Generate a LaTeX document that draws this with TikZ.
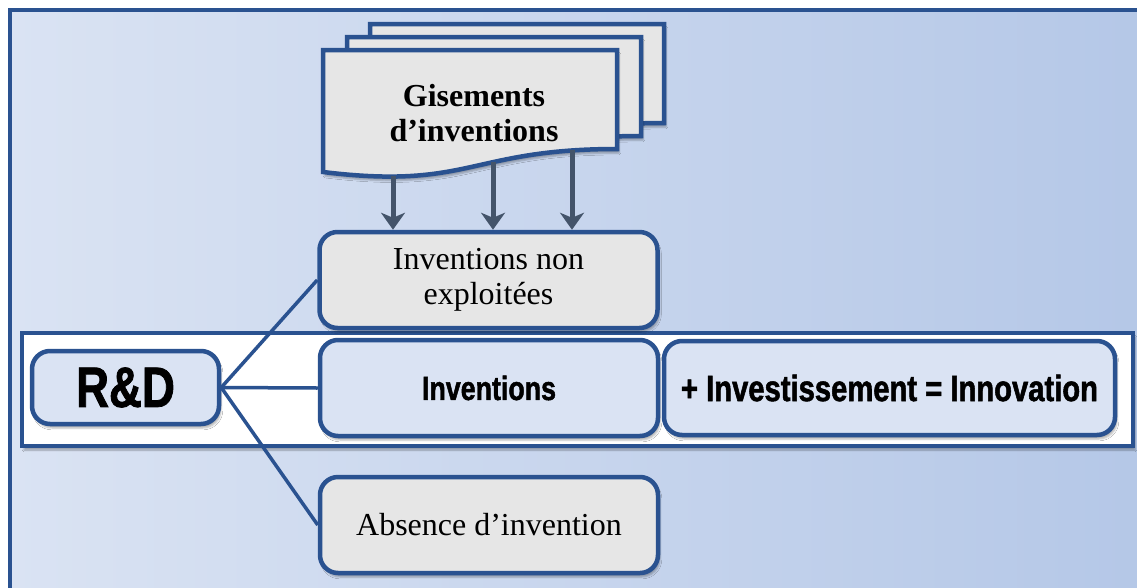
\documentclass[tikz,border=0pt]{standalone}
\usepackage{fontspec}
\setmainfont{Liberation Serif}
\newfontfamily\condfont[FakeStretch=0.8,FakeBold=1.4]{Liberation Sans}
\usetikzlibrary{arrows.meta,shadows.blur}
\definecolor{frameblue}{HTML}{2A5290}
\definecolor{bgleft}{HTML}{DAE3F3}
\definecolor{bgright}{HTML}{B4C7E7}
\definecolor{boxgray}{HTML}{E6E6E6}
\definecolor{arrowgray}{HTML}{44546A}
\tikzset{
  soft/.style={blur shadow={shadow xshift=2pt,shadow yshift=-4pt,shadow opacity=30}},
  box/.style={draw=frameblue,line width=4.5pt,rounded corners=18pt,align=center,inner sep=0pt,soft},
  graybox/.style={box,fill=boxgray,minimum width=338pt,minimum height=96pt,font=\fontsize{32}{35}\selectfont},
  bluebox/.style={box,fill=bgleft},
  link/.style={draw=frameblue,line width=3.5pt},
  flow/.style={draw=arrowgray,line width=5pt,-{Stealth[length=17pt,width=24pt,inset=5pt]}}
}
\begin{document}
\begin{tikzpicture}[x=1pt,y=-1pt]
\useasboundingbox (0,0) rectangle (1137,587);
\clip (0,0) rectangle (1137,587);
\shade[left color=bgleft,right color=bgright] (10,10) rectangle (1160,610);
\draw[frameblue,line width=4.5pt] (10,10) rectangle (1160,610);
\draw[frameblue,line width=4.5pt,fill=white,soft] (22,333) rectangle (1133,446);

\foreach \dx/\dy in {47/-26,24/-13,0/0}
  \draw[frameblue,line width=4.5pt,fill=boxgray,soft,shift={(\dx,\dy)}] (323,50) -- (617,50) -- (617,149)
    .. controls (470,149) and (470,190) .. (323,172) -- cycle;
\node[font=\bfseries\fontsize{32}{35}\selectfont,align=center] (gis) at (474,113) {Gisements\\d’inventions};
\coordinate (g1) at (393,176);
\coordinate (g2) at (493,162);
\coordinate (g3) at (572,150);

\node[graybox] (nonexp) at (488.5,280) {Inventions non\\exploitées};
\node[bluebox,minimum width=187pt,minimum height=73pt,font=\condfont\bfseries\fontsize{57}{60}\selectfont] (rd) at (125.5,387.5) {R\&D};
\node[bluebox,minimum width=338pt,minimum height=96pt,font=\condfont\bfseries\fontsize{33.5}{38}\selectfont] (inv) at (489,388) {Inventions};
\node[bluebox,minimum width=451pt,minimum height=94pt,font=\condfont\bfseries\fontsize{36.5}{40}\selectfont] (innov) at (889.5,388) {+ Investissement = Innovation};
\node[graybox] (abs) at (489,525) {Absence d’invention};

\draw[link] (rd.east) -- (nonexp.west);
\draw[link] (rd.east) -- (inv.west);
\draw[link] (rd.east) -- (abs.west);
\foreach \g in {g1,g2,g3}
  \draw[flow] (\g) -- (\g |- nonexp.north);
\end{tikzpicture}
\end{document}
